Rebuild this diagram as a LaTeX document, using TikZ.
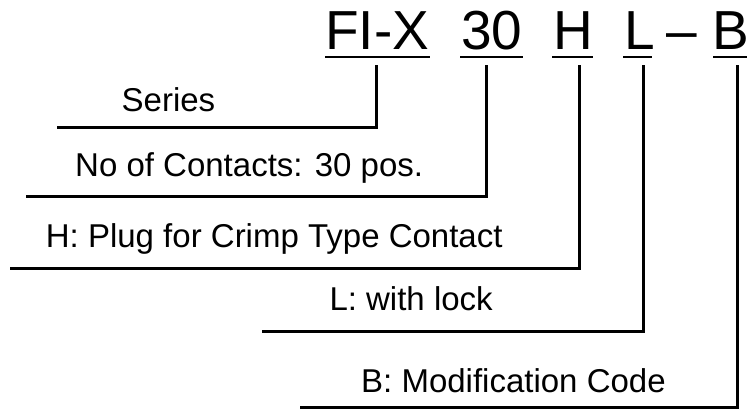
\documentclass[tikz,border=0pt]{standalone}
\usepackage{fontspec}
\setmainfont{Liberation Sans}
\begin{document}
\begin{tikzpicture}[x=1pt,y=-1pt,
  titlepart/.style={inner sep=0pt,anchor=base west,font=\fontsize{55}{60}\selectfont},
  label/.style={inner sep=0pt,anchor=base west,font=\fontsize{33}{36}\selectfont},
  leader/.style={line width=3pt,line join=miter,line cap=butt},
  uline/.style={line width=2.6pt}]
\useasboundingbox (0,0) rectangle (750,410);
% title parts
\node[titlepart] (tF) at (325,49.5) {FI-X};
\node[titlepart] (t30) at (461,49.5) {30};
\node[titlepart] (tH) at (553,49.5) {H};
\node[titlepart] (tL) at (624,49.5) {L};
\node[titlepart,anchor=base] (tD) at (681.5,49.5) {–};
\node[titlepart] (tB) at (712.5,49.5) {B};
% underlines
\draw[uline] ([yshift=-7.5]tF.base west) -- ([yshift=-7.5,xshift=1]tF.base east);
\draw[uline] ([yshift=-7.5,xshift=-1]t30.base west) -- ([yshift=-7.5]t30.base east);
\draw[uline] ([yshift=-7.5,xshift=-1]tH.base west) -- ([yshift=-7.5]tH.base east);
\draw[uline] ([yshift=-7.5,xshift=-1]tL.base west) -- ([yshift=-7.5,xshift=-3]tL.base east);
\draw[uline] ([yshift=-7.5,xshift=0.5]tB.base west) -- ([yshift=-7.5,xshift=-2.5]tB.base east);
% labels
\node[label] (lS) at (121.5,111.7) {Series};
\node[label] (lN) at (75,176.7) {No of Contacts: 30 pos.};
\node[label] (lH) at (45.7,247.7) {H: Plug for Crimp Type Contact};
\node[label] (lL) at (329.3,310) {L: with lock};
\node[label] (lB) at (361,392.3) {B: Modification Code};
% connector coordinates
\coordinate (vF) at (376,65);
\coordinate (v30) at (486,65);
\coordinate (vH) at (579.5,65);
\coordinate (vL) at (643,65);
\coordinate (vB) at (737,65);
\coordinate (eS) at (57,127.7);
\coordinate (eN) at (26,196.7);
\coordinate (eH) at (10,268.3);
\coordinate (eL) at (262,331.5);
\coordinate (eB) at (300,407.5);
% leaders
\draw[leader] (vF) |- (eS);
\draw[leader] (v30) |- (eN);
\draw[leader] (vH) |- (eH);
\draw[leader] (vL) |- (eL);
\draw[leader] (vB) |- (eB);
\end{tikzpicture}
\end{document}
